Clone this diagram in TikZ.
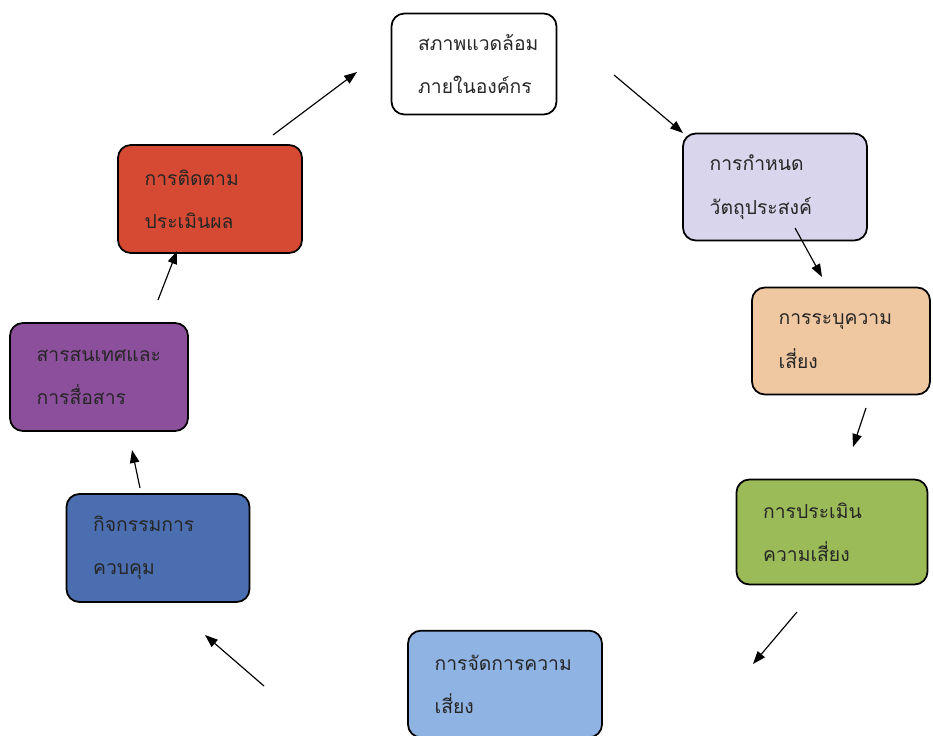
\documentclass[tikz,border=0pt]{standalone}
\usepackage{fontspec}
\usetikzlibrary{arrows.meta}
\newfontfamily\thaifont[Script=Thai]{Loma}
\definecolor{lavender}{HTML}{D8D5EC}
\definecolor{peach}{HTML}{EFC8A2}
\definecolor{leaf}{HTML}{9BBB59}
\definecolor{sky}{HTML}{8FB3E2}
\definecolor{navy}{HTML}{4B6EB0}
\definecolor{plum}{HTML}{8C4F9C}
\definecolor{brick}{HTML}{D64A33}

\begin{document}
\begin{tikzpicture}[x=0.03cm, y=-0.03cm,
  stagebox/.style={draw, line width=1.5pt, rounded corners=11pt, align=left,
    inner xsep=0.8cm, inner ysep=0pt, text=black!85,
    font=\thaifont\fontsize{16.5}{37}\selectfont},
  flow/.style={-{Triangle[length=11pt, width=8pt]}, line width=1pt}]
  \useasboundingbox (0,0) rectangle (933,736);

  \node[stagebox, fill=white, text width=3.35cm, minimum height=3.03cm] (env) at (474,64) {สภาพแวดล้อม\\ภายในองค์กร};
  \node[stagebox, fill=lavender, text width=3.92cm, minimum height=3.21cm] (goal) at (775,187) {การกำหนด\\วัตถุประสงค์};
  \node[stagebox, fill=peach, text width=3.74cm, minimum height=3.21cm] (ident) at (841,341) {การระบุความ\\เสี่ยง};
  \node[stagebox, fill=leaf, text width=4.13cm, minimum height=3.15cm] (assess) at (832,532) {การประเมิน\\ความเสี่ยง};
  \node[stagebox, fill=sky, text width=4.22cm, minimum height=3.2cm] (respond) at (505,684) {การจัดการความ\\เสี่ยง};
  \node[stagebox, fill=navy, text width=3.89cm, minimum height=3.24cm] (control) at (158,548) {กิจกรรมการ\\ควบคุม};
  \node[stagebox, fill=plum, text width=3.74cm, minimum height=3.24cm] (inform) at (99,377) {สารสนเทศและ\\การสื่อสาร};
  \node[stagebox, fill=brick, text width=3.92cm, minimum height=3.24cm] (monitor) at (210,199) {การติดตาม\\ประเมินผล};

  \coordinate (envout) at (614,75);   \coordinate (goalin) at (683,133);
  \coordinate (goalout) at (795,228); \coordinate (identin) at (822,277);
  \coordinate (identout) at (866,408); \coordinate (assessin) at (853,447);
  \coordinate (assessout) at (797,612); \coordinate (respondin) at (753,664);
  \coordinate (respondout) at (264,686); \coordinate (controlin) at (205,635);
  \coordinate (controlout) at (140,488); \coordinate (informin) at (132,450);
  \coordinate (informout) at (158,300); \coordinate (monitorin) at (177,251);
  \coordinate (monitorout) at (273,135); \coordinate (envin) at (357,72);

  \draw[flow] (envout) -- (goalin);
  \draw[flow] (goalout) -- (identin);
  \draw[flow] (identout) -- (assessin);
  \draw[flow] (assessout) -- (respondin);
  \draw[flow] (respondout) -- (controlin);
  \draw[flow] (controlout) -- (informin);
  \draw[flow] (informout) -- (monitorin);
  \draw[flow] (monitorout) -- (envin);
\end{tikzpicture}
\end{document}
